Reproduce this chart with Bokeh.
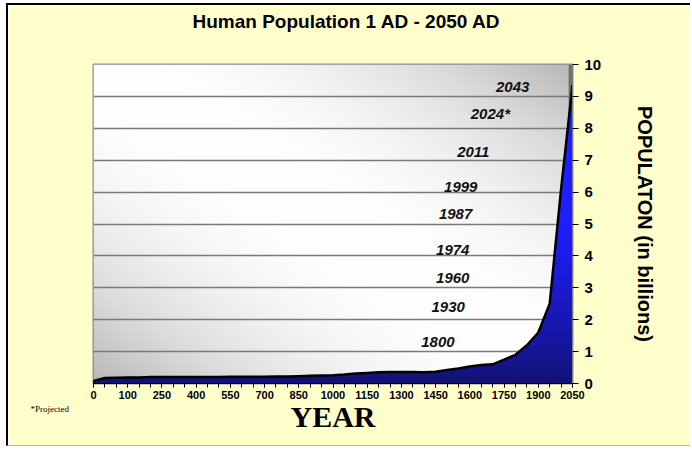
import numpy as np
from bokeh.plotting import figure
from bokeh.models import Range1d, FixedTicker, Title, Label
from bokeh.core.properties import value
from bokeh.embed import file_html
from bokeh.resources import INLINE

# ---------------- data ----------------
years = [0, 25, 50, 100, 150, 200, 250, 300, 350, 400, 450, 500, 550, 600, 650,
         700, 750, 800, 850, 900, 950, 1000, 1050, 1100, 1150, 1200, 1250, 1300,
         1350, 1400, 1450, 1500, 1550, 1600, 1650, 1700, 1750, 1800, 1850, 1900,
         1950, 2000, 2050]
population = [0.08, 0.17, 0.18, 0.19, 0.19, 0.20, 0.20, 0.20, 0.20, 0.20,
              0.20, 0.20, 0.21, 0.21, 0.21, 0.21, 0.22, 0.22, 0.23, 0.24,
              0.25, 0.26, 0.28, 0.31, 0.33, 0.35, 0.36, 0.36, 0.36, 0.35,
              0.37, 0.42, 0.47, 0.53, 0.58, 0.60, 0.75, 0.90, 1.20, 1.60,
              2.50, 6.10, 9.35]
tick_labels = ["0", "100", "250", "400", "550", "700", "850", "1000", "1150",
               "1300", "1450", "1600", "1750", "1900", "2050"]
milestone_labels = ["1800", "1930", "1960", "1974", "1987", "1999", "2011", "2024*", "2043"]
milestone_billions = [1, 2, 3, 4, 5, 6, 7, 8, 9]
# label placement (category-index units, billions)
label_x = [30.2, 31.1, 31.5, 31.5, 31.75, 32.2, 33.3, 34.8, 36.75]
label_y = [1.3, 2.4, 3.3, 4.2, 5.3, 6.15, 7.25, 8.45, 9.3]
y_ticks = [0, 1, 2, 3, 4, 5, 6, 7, 8, 9, 10]

idx = np.arange(len(years), dtype=float)
pop = np.array(population, dtype=float)
n = len(years)

W, H = 684, 443
p = figure(width=W, height=H, output_backend="svg", toolbar_location=None,
           x_range=Range1d(0, n - 1), y_range=Range1d(0, 10),
           y_axis_location="right", x_axis_location="below",
           min_border_left=85, min_border_right=120,
           min_border_top=59, min_border_bottom=65,
           border_fill_color="#FFFFCC", background_fill_color="white")
p.styles = {"border-left": "2px solid black", "border-top": "2px solid black",
            "border-bottom": "1px solid #b8b8b8",
            "margin-left": "6px", "margin-top": "3px"}

# title (outermost) with a spacer between it and the plot area
p.title.text = "Human Population 1 AD - 2050 AD"
p.title.align = "left"
p.title.text_font = "Liberation Sans"
p.title.text_font_style = "bold"
p.title.text_font_size = "19px"
p.title.text_color = "black"
p.title.offset = 99
p.title.standoff = 6
p.add_layout(Title(text=" ", text_font_size="2px", standoff=26), "above")

# diagonal gradient background of the plot area
GH, GW = 160, 240
vv, uu = np.mgrid[0:GH, 0:GW]
u = uu / (GW - 1)
v = vv / (GH - 1)
t = np.abs(u + v - 1)
g = (255 - 72 * t ** 2).astype(np.uint8)
img = np.empty((GH, GW), dtype=np.uint32)
view = img.view(dtype=np.uint8).reshape((GH, GW, 4))
view[..., 0] = g
view[..., 1] = g
view[..., 2] = g
view[..., 3] = 255
p.image_rgba(image=[img], x=0, y=0, dw=n - 1, dh=10, level="image")

# grey edge bar at the right of the area
p.vbar(x=[idx[-1] - 0.17], width=0.34, bottom=0, top=[p.y_range.end],
       fill_color="#707070", line_color=None)

# gradient-filled area, built as nested bands
band = 0.2
levels = np.arange(band, 10 + 1e-9, band)
xs = list(idx)
for i in range(n - 1):
    a, b = pop[i], pop[i + 1]
    lo, hi = min(a, b), max(a, b)
    for L in levels:
        if lo < L < hi:
            xs.append(i + (L - a) / (b - a))
xs = np.array(sorted(set(xs)))
ps = np.interp(xs, idx, pop)

dark = np.array([18, 18, 112])
bright = np.array([30, 30, 255])
for L in levels[::-1]:
    if L - band >= pop.max():
        continue
    mid = L - band / 2
    f = min(1.0, mid / 5.0) ** 0.8
    c = (dark + (bright - dark) * f).astype(int)
    col = "#%02x%02x%02x" % tuple(c)
    p.varea(x=xs, y1=np.zeros_like(xs), y2=np.minimum(ps, L),
            fill_color=col, fill_alpha=1.0)

p.line(idx, pop, line_color="black", line_width=2.5)

# milestone labels
p.text(x=label_x, y=label_y, text=milestone_labels,
       text_font=value("Liberation Sans"), text_font_style="bold italic",
       text_font_size="15px", text_align="center", text_baseline="middle",
       text_color="#111111")

# grid / outline
p.xgrid.visible = False
p.ygrid.ticker = FixedTicker(ticks=y_ticks)
p.ygrid.grid_line_color = "#7a7a7a"
p.ygrid.grid_line_width = 1.6
p.outline_line_color = "#8c8c8c"
p.outline_line_width = 2

# x axis
xa = p.xaxis[0]
xa.ticker = FixedTicker(ticks=list(range(0, n, 3)), minor_ticks=list(range(n)))
xa.major_label_overrides = {i * 3: lab for i, lab in enumerate(tick_labels)}
xa.major_label_text_font = "Liberation Sans"
xa.major_label_text_font_style = "bold"
xa.major_label_text_font_size = "11px"
xa.major_label_text_color = "black"
xa.major_label_standoff = 3
xa.major_tick_in = 0
xa.major_tick_out = 4
xa.minor_tick_in = 0
xa.minor_tick_out = 4
xa.major_tick_line_color = "black"
xa.minor_tick_line_color = "black"
xa.axis_line_color = "black"
xa.axis_label = "YEAR"
xa.axis_label_text_font = "Liberation Serif"
xa.axis_label_text_font_style = "bold"
xa.axis_label_text_font_size = "30px"
xa.axis_label_text_color = "black"
xa.axis_label_standoff = -2

# y axis (right)
ya = p.yaxis[0]
ya.ticker = FixedTicker(ticks=y_ticks)
ya.major_label_text_font = "Liberation Sans"
ya.major_label_text_font_style = "bold"
ya.major_label_text_font_size = "15px"
ya.major_label_text_color = "black"
ya.major_label_standoff = 6
ya.major_tick_in = 0
ya.major_tick_out = 6
ya.major_tick_line_color = "black"
ya.minor_tick_line_color = None
ya.axis_line_color = "#808080"
ya.axis_label = "POPULATON (in billions)"
ya.axis_label_text_font = "Liberation Sans"
ya.axis_label_text_font_style = "bold"
ya.axis_label_text_font_size = "20px"
ya.axis_label_text_color = "black"
ya.axis_label_standoff = 30

# footnote in the bottom panel
p.add_layout(Label(x=-63, y=37, x_units="screen", y_units="screen",
                   text="*Projected", text_align="left", text_baseline="middle",
                   text_font="Liberation Serif", text_font_size="9px",
                   text_color="black"), "below")

open("out.html", "w").write(file_html(p, INLINE))
